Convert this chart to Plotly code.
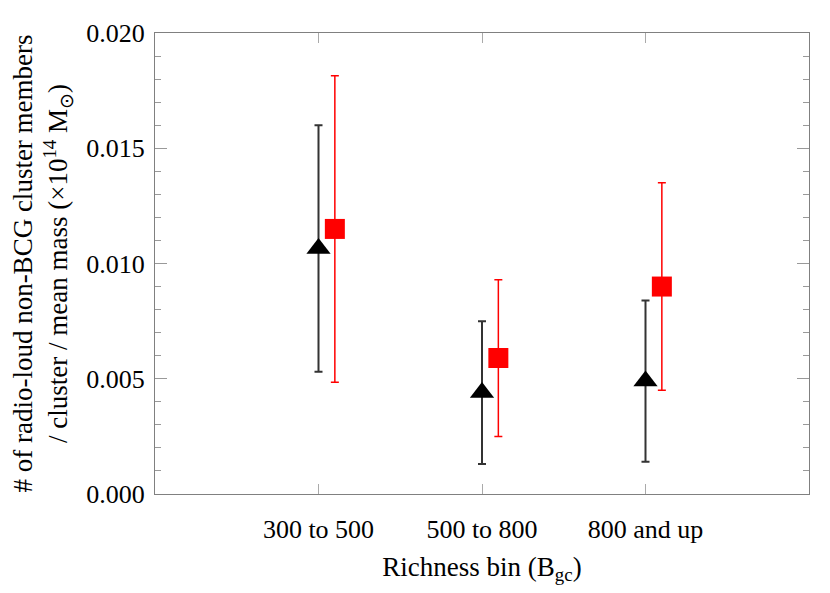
import plotly.graph_objects as go

bins = ['300 to 500', '500 to 800', '800 and up']
bin_pos = [1, 2, 3]

tri_vals = [0.01065, 0.0044, 0.0049]
tri_errs = [0.00535, 0.0031, 0.0035]

sq_vals = [0.0115, 0.0059, 0.0090]
sq_errs = [0.00665, 0.0034, 0.0045]

red_shift = 0.1

font_family = 'Liberation Serif, Times New Roman, serif'

fig = go.Figure()

fig.add_trace(go.Scatter(
    x=bin_pos, y=tri_vals, mode='markers',
    marker=dict(symbol='triangle-up', size=21, color='black'),
    error_y=dict(type='data', array=tri_errs, visible=True,
                 color='#333333', thickness=2, width=4),
    showlegend=False))

fig.add_trace(go.Scatter(
    x=[p + red_shift for p in bin_pos], y=sq_vals, mode='markers',
    marker=dict(symbol='square', size=20, color='#ff0000'),
    error_y=dict(type='data', array=sq_errs, visible=True,
                 color='#ff0000', thickness=1.5, width=4),
    showlegend=False))

# page body has an 8px margin, so the figure is shifted by 8px
fig.update_layout(
    width=822, height=585,
    margin=dict(l=147, r=21, t=25, b=99),
    paper_bgcolor='white', plot_bgcolor='white',
    font=dict(family=font_family, size=27, color='black'),
    xaxis=dict(
        range=[0, 4], tickvals=bin_pos, ticktext=bins,
        automargin=False,
        showgrid=False, zeroline=False,
        showline=True, linecolor='#808080', linewidth=1, mirror='ticks',
        ticks='inside', ticklen=10, tickcolor='#aaaaaa', tickwidth=1,
        ticklabelstandoff=12,
        tickfont=dict(size=26),
        title=dict(text='Richness bin (B<sub>gc</sub>)', standoff=13,
                   font=dict(size=27)),
    ),
    yaxis=dict(
        range=[0, 0.020], tickvals=[0, 0.005, 0.010, 0.015, 0.020],
        ticktext=['0.000', '0.005', '0.010', '0.015', '0.020'],
        automargin=False,
        showgrid=False, zeroline=False,
        showline=True, linecolor='#808080', linewidth=1, mirror='ticks',
        ticks='inside', ticklen=12, tickcolor='#999999', tickwidth=1,
        ticklabelstandoff=4,
        tickfont=dict(size=26),
        minor=dict(dtick=0.001, ticks='inside', ticklen=6,
                   tickcolor='#999999', showgrid=False),
        title=dict(text='# of radio-loud non-BCG cluster members<br>'
                        '/ cluster / mean mass (\u00d710<sup>14</sup> M<sub>\u2299</sub>)',
                   standoff=15, font=dict(size=27)),
    ),
)

fig.write_html("out.html")
